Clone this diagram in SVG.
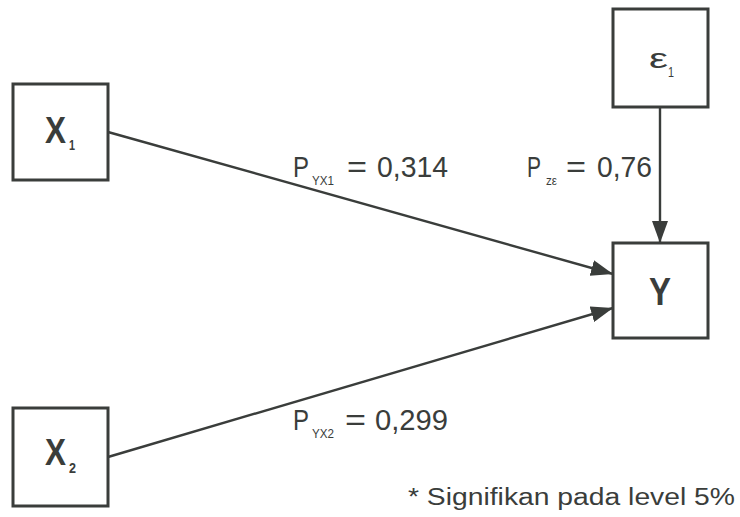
<svg xmlns="http://www.w3.org/2000/svg" width="740" height="517" viewBox="0 0 740 517">
<defs>
<marker id="arr" markerUnits="userSpaceOnUse" markerWidth="24" markerHeight="16" refX="22" refY="8" orient="auto">
<path d="M0,0 L22,8 L0,16 Z" fill="#3a3d3b"/>
</marker>
</defs>
<style>
.box{fill:#ffffff;stroke:#3a3d3b;stroke-width:3}
.edge{stroke:#3a3d3b;stroke-width:2.4;fill:none}
.t{font-family:"Liberation Sans",Arial,sans-serif;fill:#3a3d3b}
.b{font-weight:bold}
</style>
<rect width="740" height="517" fill="#ffffff"/>
<g id="connectors">
<line class="edge" x1="108" y1="132" x2="613" y2="274" marker-end="url(#arr)"/>
<line class="edge" x1="108" y1="457" x2="613" y2="308" marker-end="url(#arr)"/>
<line class="edge" x1="660" y1="107" x2="660" y2="243" marker-end="url(#arr)"/>
</g>
<g id="X1">
<rect class="box" x="13" y="84" width="95" height="96"/>
<text class="t b" x="45" y="143" font-size="36" textLength="21" lengthAdjust="spacingAndGlyphs">X</text>
<text class="t b" x="69" y="150" font-size="15" textLength="6" lengthAdjust="spacingAndGlyphs">1</text>
</g>
<g id="X2">
<rect class="box" x="13" y="408" width="95" height="98"/>
<text class="t b" x="45" y="465" font-size="36" textLength="21" lengthAdjust="spacingAndGlyphs">X</text>
<text class="t b" x="69" y="473" font-size="15" textLength="7" lengthAdjust="spacingAndGlyphs">2</text>
</g>
<g id="E1">
<rect class="box" x="613" y="9" width="95" height="98"/>
<text class="t" x="649" y="68" font-size="27" textLength="19" lengthAdjust="spacingAndGlyphs">ε</text>
<text class="t" x="668" y="77" font-size="14" textLength="6" lengthAdjust="spacingAndGlyphs">1</text>
</g>
<g id="Y">
<rect class="box" x="613" y="243" width="95" height="95"/>
<text class="t b" x="649" y="305" font-size="38" textLength="22" lengthAdjust="spacingAndGlyphs">Y</text>
</g>
<g id="labels">
<text class="t" x="293" y="177" font-size="29" textLength="16" lengthAdjust="spacingAndGlyphs">P</text>
<text class="t" x="312" y="185" font-size="12" textLength="22" lengthAdjust="spacingAndGlyphs">YX1</text>
<text class="t" x="347" y="177" font-size="29" textLength="20" lengthAdjust="spacingAndGlyphs">=</text>
<text class="t" x="377" y="177" font-size="29" textLength="71" lengthAdjust="spacingAndGlyphs">0,314</text>
<text class="t" x="527" y="177" font-size="29" textLength="14" lengthAdjust="spacingAndGlyphs">P</text>
<text class="t" x="546" y="185" font-size="12" textLength="11" lengthAdjust="spacingAndGlyphs">zε</text>
<text class="t" x="566" y="177" font-size="29" textLength="20" lengthAdjust="spacingAndGlyphs">=</text>
<text class="t" x="597" y="177" font-size="29" textLength="55" lengthAdjust="spacingAndGlyphs">0,76</text>
<text class="t" x="293" y="430" font-size="29" textLength="16" lengthAdjust="spacingAndGlyphs">P</text>
<text class="t" x="312" y="438" font-size="12" textLength="22" lengthAdjust="spacingAndGlyphs">YX2</text>
<text class="t" x="345" y="430" font-size="29" textLength="21" lengthAdjust="spacingAndGlyphs">=</text>
<text class="t" x="375" y="430" font-size="29" textLength="73" lengthAdjust="spacingAndGlyphs">0,299</text>
<text class="t" x="408" y="505" font-size="23" textLength="327" lengthAdjust="spacingAndGlyphs">* Signifikan pada level 5%</text>
</g>
</svg>
